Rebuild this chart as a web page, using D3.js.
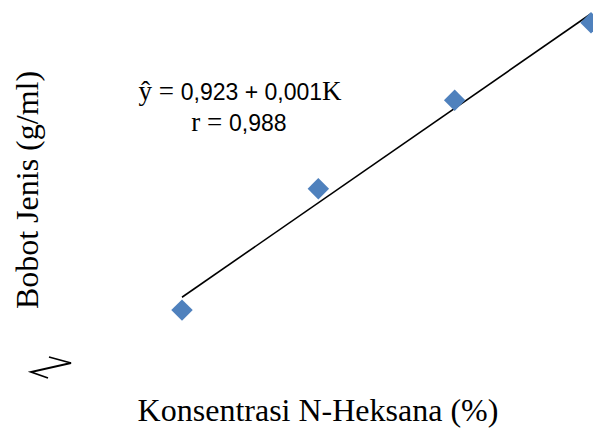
<!DOCTYPE html>
<html>
<head>
    <meta charset="utf-8">
    <title>bobot jenis</title>
    <script type="text/javascript" src="https://d3js.org/d3.v7.min.js"></script>
    <style>
        body { margin: 0; background: #fff; }
        svg { display: block; }
    </style>
</head>
<body>
<script type="text/javascript">

    var width = 593
    var height = 428

    // konsentrasi n-heksana (%) and bobot jenis (g/ml)
    var konsentrasi = [25, 50, 75, 100]
    var bobotJenis = [0.9446, 0.9767, 1.0001, 1.0206]

    // regression  y = a + bK
    var intercept = 0.923
    var slope = 0.001
    var eqLine1 = ["ŷ = ", "0,923 + 0,001", "K"]
    var eqLine2 = ["r = ", "0,988"]

    var xTitle = "Konsentrasi N-Heksana (%)"
    var yTitle = "Bobot Jenis (g/ml)"

    var serif = "'Liberation Serif', 'Times New Roman', serif"
    var sans = "'Liberation Sans', Arial, sans-serif"
    var blue = "#4F81BD"

    var svg = d3.select("body").append("svg")
        .attr("width", width)
        .attr("height", height)

    var x = d3.scaleLinear().domain([25, 100]).range([182, 591])
    var y = d3.scaleLinear().domain([0.93, 1.03]).range([365.3, -12.7])

    // trend line
    var lineData = d3.extent(konsentrasi).map(function(k) {
        return {k: k, v: intercept + slope * k}
    })
    svg.append("path")
        .datum(lineData)
        .attr("fill", "none")
        .attr("stroke", "#000")
        .attr("stroke-width", 1.6)
        .attr("d", d3.line()
            .x(function(d) { return x(d.k) })
            .y(function(d) { return y(d.v) }))

    // diamonds
    var diamond = d3.symbol().type(d3.symbolSquare).size(230)
    svg.selectAll(".pt")
        .data(konsentrasi)
        .enter()
        .append("path")
        .attr("class", "pt")
        .attr("d", diamond)
        .attr("fill", blue)
        .attr("transform", function(d, i) {
            return "translate(" + x(d) + "," + y(bobotJenis[i]) + ") rotate(45)"
        })

    // equation
    var l1 = svg.append("text").attr("x", 240).attr("y", 100).attr("text-anchor", "middle")
    l1.append("tspan").attr("font-family", serif).attr("font-size", 27).text(eqLine1[0])
    l1.append("tspan").attr("font-family", sans).attr("font-size", 23).text(eqLine1[1])
    l1.append("tspan").attr("font-family", serif).attr("font-size", 27).text(eqLine1[2])

    var l2 = svg.append("text").attr("x", 239).attr("y", 131).attr("text-anchor", "middle")
    l2.append("tspan").attr("font-family", serif).attr("font-size", 27).text(eqLine2[0])
    l2.append("tspan").attr("font-family", sans).attr("font-size", 23).text(eqLine2[1])

    // axis titles
    svg.append("text")
        .attr("x", 318)
        .attr("y", 421)
        .attr("text-anchor", "middle")
        .attr("font-family", serif)
        .attr("font-size", 32)
        .text(xTitle)

    svg.append("text")
        .attr("transform", "translate(38,190) rotate(-90)")
        .attr("text-anchor", "middle")
        .attr("font-family", serif)
        .attr("font-size", 32)
        .text(yTitle)

    // axis break mark
    var brk = [[18, 0], [40, 6], [0, 15], [17, 21]]
    svg.append("path")
        .attr("transform", "translate(31,357)")
        .attr("fill", "none")
        .attr("stroke", "#000")
        .attr("stroke-width", 1.8)
        .attr("d", d3.line()(brk))

</script>
</body>
</html>
